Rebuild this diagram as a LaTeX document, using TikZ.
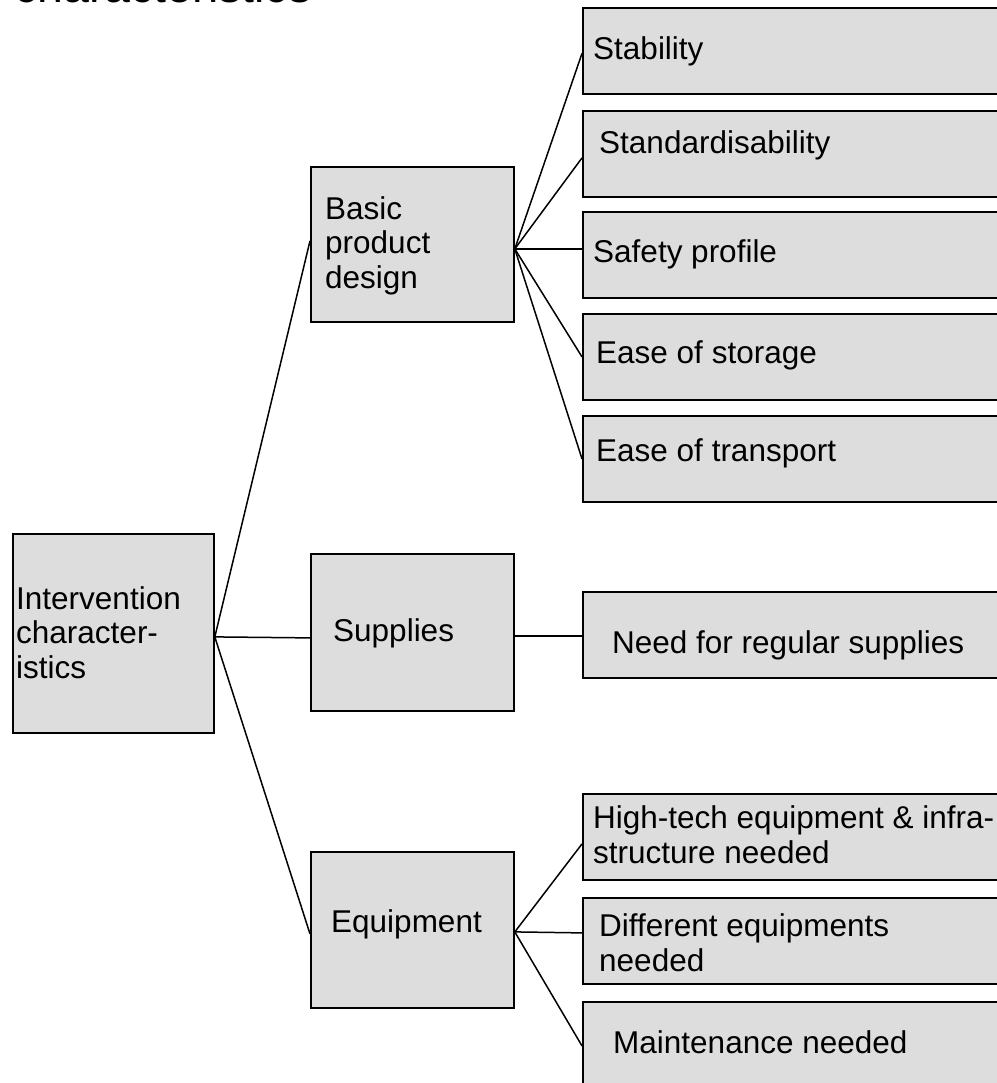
\documentclass[tikz,border=0pt]{standalone}
\usepackage{fontspec}
\setmainfont{Liberation Sans}
\definecolor{boxgray}{RGB}{221,221,221}

\begin{document}
\begin{tikzpicture}[x=1pt,y=-1pt]
	\tikzstyle{cbox}=[rectangle,draw=black,fill=boxgray,line width=1.8pt,anchor=north west,inner sep=0pt]
	\tikzstyle{leaf}=[cbox,minimum width=430pt,minimum height=86pt]
	\tikzstyle{txt}=[anchor=base west,inner sep=0pt,align=left,font=\fontsize{31.5}{34.5}\selectfont]
	\tikzstyle{link}=[line width=1.5pt]
	\useasboundingbox (0,0) rectangle (996,1083);
	% heading, cut at the top
	\node[anchor=base west,inner sep=0pt,font=\fontsize{46.5}{50}\selectfont] (ttl) at (14,3) {characteristics};
	% boxes
	\node[cbox,minimum width=201pt,minimum height=199pt] (root) at (12,533) {};
	\node[cbox,minimum width=203pt,minimum height=155pt] (basic) at (310,166) {};
	\node[cbox,minimum width=203pt,minimum height=157pt] (supp) at (310,553) {};
	\node[cbox,minimum width=203pt,minimum height=156pt] (equip) at (310,851) {};
	\node[leaf] (stab) at (582,7) {};
	\node[leaf] (stand) at (582,110) {};
	\node[leaf] (safe) at (582,211) {};
	\node[leaf] (stor) at (582,313) {};
	\node[leaf] (trans) at (582,415) {};
	\node[leaf] (need) at (582,591) {};
	\node[leaf] (hitech) at (582,793) {};
	\node[leaf] (diff) at (582,897) {};
	\node[leaf,minimum height=88pt] (maint) at (582,1001) {};
	% texts (base = last line)
	\node[txt] (troot) at (16,678) {Intervention\\character-\\istics};
	\node[txt] (tbasic) at (325,288) {Basic\\product\\design};
	\node[txt] (tsupp) at (333,641) {Supplies};
	\node[txt] (tequip) at (331,932) {Equipment};
	\node[txt] (tstab) at (593,60) {Stability};
	\node[txt] (tstand) at (599,154) {Standardisability};
	\node[txt] (tsafe) at (593,262) {Safety profile};
	\node[txt] (tstor) at (596,363) {Ease of storage};
	\node[txt] (ttrans) at (596,461) {Ease of transport};
	\node[txt] (tneed) at (612,653) {Need for regular supplies};
	\node[txt] (thitech) at (593,863) {High-tech equipment \& infra-\\structure needed};
	\node[txt] (tdiff) at (599,971) {Different equipments\\needed};
	\node[txt] (tmaint) at (613,1053) {Maintenance needed};
	% connectors
	\draw[link] ([yshift=-3.5pt]root.east) -- ([yshift=3.5pt]basic.west);
	\draw[link] ([yshift=-3.5pt]root.east) -- ([yshift=-5.5pt]supp.west);
	\draw[link] ([yshift=-3.5pt]root.east) -- ([yshift=-4pt]equip.west);
	\draw[link] ([yshift=-4.5pt]basic.east) -- ([yshift=-2.5pt]stab.west);
	\draw[link] ([yshift=-4.5pt]basic.east) -- ([yshift=-4pt]stand.west);
	\draw[link] ([yshift=-4.5pt]basic.east) -- ([yshift=6pt]safe.west);
	\draw[link] ([yshift=-4.5pt]basic.east) -- (stor.west);
	\draw[link] ([yshift=-4.5pt]basic.east) -- (trans.west);
	\draw[link] ([yshift=-3.5pt]supp.east) -- ([yshift=-1pt]need.west);
	\draw[link] ([yshift=-2pt]equip.east) -- ([yshift=-7pt]hitech.west);
	\draw[link] ([yshift=-2pt]equip.east) -- ([yshift=8pt]diff.west);
	\draw[link] ([yshift=-2pt]equip.east) -- (maint.west);
\end{tikzpicture}
\end{document}
